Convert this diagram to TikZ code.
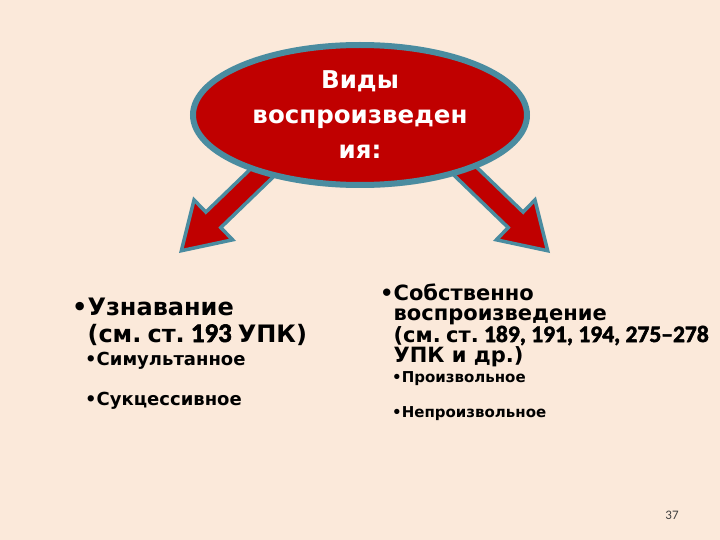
\documentclass[tikz,border=0pt]{standalone}
\usepackage{fontspec}
\setmainfont{DejaVu Sans}
\newfontfamily\numfont{Carlito}[FakeBold=2.2, Scale=1.12]
\newfontfamily\pagefont{Carlito}
\usetikzlibrary{shapes, shapes.arrows, positioning, shadows}
\definecolor{slidebg}{HTML}{FBE9DA}
\definecolor{darkred}{HTML}{C00000}
\definecolor{tealrim}{HTML}{4A8CA0}
\tikzset{
  title/.style={
    ellipse,
    fill=darkred,
    draw=tealrim, line width=6pt,
    minimum width=334pt,
    minimum height=140pt,
    inner sep=0pt,
    drop shadow={opacity=0.25, shadow xshift=1pt, shadow yshift=-3pt}
  },
  bigarrow/.style={
    single arrow,
    fill=darkred,
    draw=tealrim, line width=3.5pt,
    inner xsep=0pt, inner ysep=9pt,
    minimum height=135pt,
    single arrow head extend=17pt,
    single arrow tip angle=64
  },
  item/.style={
    anchor=base west,
    inner sep=0pt,
    align=left
  }
}
\newcommand*\bul{\textbullet}

\begin{document}
\begin{tikzpicture}[x=1pt, y=-1pt]
\useasboundingbox[fill=slidebg] (0,0) rectangle (720,540);

% arrows (under the ellipse)
\node[bigarrow, rotate=224, anchor=tip] (toleft) at (179,253) {};
\node[bigarrow, rotate=-44, anchor=tip] (toright) at (550,253) {};

% title
\node[title] (kinds) at (360,115) {};
\node[text=white, font=\fontsize{24.5}{35}\selectfont\bfseries, align=center]
  (kindstext) at (kinds.center) {Виды\\воспроизведен\\ия:};

% left list (base = last line)
\node[item, font=\fontsize{24}{27}\selectfont\bfseries] (recog) at (72,342)
  {\bul Узнавание\\\hphantom{\bul}(см.{\numfont\ }ст.{\numfont\ 193 }УПК)};
\node[item, font=\fontsize{18}{20}\selectfont\bfseries] (simul) at (85,365)
  {\bul Симультанное};
\node[item, font=\fontsize{18}{20}\selectfont\bfseries] (succ) at (85,405)
  {\bul Сукцессивное};

% right list (base = last line)
\node[item, font=\fontsize{21}{20}\selectfont\bfseries] (proper) at (380,362)
  {\bul Собственно\\\hphantom{\bul}воспроизведение\\\hphantom{\bul}(см.{\numfont\ }ст.{\numfont\ 189, 191, 194, 275–278}\\\hphantom{\bul}УПК и др.)};
\node[item, font=\fontsize{15}{17}\selectfont\bfseries] (volun) at (392,382)
  {\bul Произвольное};
\node[item, font=\fontsize{15}{17}\selectfont\bfseries] (invol) at (392,417)
  {\bul Непроизвольное};

% page number
\node[text=black!75, font=\fontsize{13}{15}\selectfont\pagefont] (page) at (672,515) {37};

\end{tikzpicture}
\end{document}
